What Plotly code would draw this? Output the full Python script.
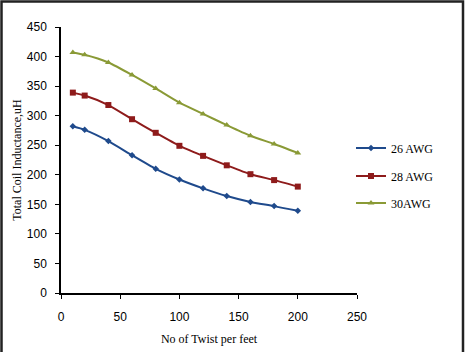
import plotly.graph_objects as go

twists = [10, 20, 40, 60, 80, 100, 120, 140, 160, 180, 200]
awg26 = [282, 276, 257, 233, 210, 192, 177, 164, 154, 147, 139]
awg28 = [339, 334, 318, 294, 271, 249, 232, 216, 201, 191, 180]
awg30 = [407, 403, 390, 369, 346, 322, 303, 284, 266, 252, 237]
names = ["26 AWG", "28 AWG", "30AWG"]
colors = ["#1F4A8C", "#8E1B1B", "#8A9A36"]
symbols = ["diamond", "square", "triangle-up"]
msizes = [5, 6, 6]

fig = go.Figure()
series = [awg26, awg28, awg30]
legends = ["legend", "legend2", "legend3"]
for vals, nm, c, s, ms, lg in zip(series, names, colors, symbols, msizes, legends):
    fig.add_trace(go.Scatter(
        x=twists, y=vals, name=nm, mode="lines+markers",
        line=dict(color=c, width=2, shape="spline", smoothing=0.6),
        marker=dict(symbol=s, size=ms, color=c),
        legend=lg,
    ))

L, R, T, B = 61, 357, 27, 293
W, H = 466, 352
pw, ph = R - L, B - T

def px_x(p):
    return (p - L) / pw

def px_y(p):
    return (B - p) / ph

legfont = dict(family="Liberation Serif, Times New Roman, serif", size=12, color="#000")
leg_common = dict(font=legfont, bgcolor="rgba(0,0,0,0)", xanchor="left", yanchor="middle",
                  itemwidth=30, tracegroupgap=0)
fig.update_layout(
    width=W, height=H,
    margin=dict(l=L, r=W - R, t=T, b=H - B, autoexpand=False),
    paper_bgcolor="white", plot_bgcolor="white",
    showlegend=True,
    legend=dict(x=px_x(351), y=px_y(148), **leg_common),
    legend2=dict(x=px_x(351), y=px_y(176), **leg_common),
    legend3=dict(x=px_x(351), y=px_y(203), **leg_common),
    xaxis=dict(
        range=[0, 250], tickvals=[0, 50, 100, 150, 200, 250], automargin=False,
        showline=True, linecolor="#000", linewidth=1.5,
        ticks="outside", ticklen=4, tickcolor="#000", showgrid=False, zeroline=False,
        tickfont=dict(family="Liberation Sans, Arial, sans-serif", size=12, color="#000"),
        ticklabelstandoff=8,
        title=dict(text="No of Twist per feet", standoff=11,
                   font=dict(family="Liberation Serif, Times New Roman, serif", size=12, color="#000")),
    ),
    yaxis=dict(
        range=[0, 450], tickvals=list(range(0, 451, 50)), automargin=False,
        showline=True, linecolor="#000", linewidth=1.5,
        ticks="outside", ticklen=4, tickcolor="#000", showgrid=False, zeroline=False,
        tickfont=dict(family="Liberation Sans, Arial, sans-serif", size=12, color="#000"),
        ticklabelstandoff=6,
        title=dict(text="Total Coil Inductance,uH", standoff=3,
                   font=dict(family="Liberation Serif, Times New Roman, serif", size=12, color="#000")),
    ),
    shapes=[dict(type="rect", xref="paper", yref="paper",
                 x0=px_x(1.5), x1=px_x(463), y0=px_y(356), y1=px_y(1.5),
                 line=dict(color="#222", width=2.5), fillcolor="rgba(0,0,0,0)", layer="below")],
)

fig.write_html("out.html")
